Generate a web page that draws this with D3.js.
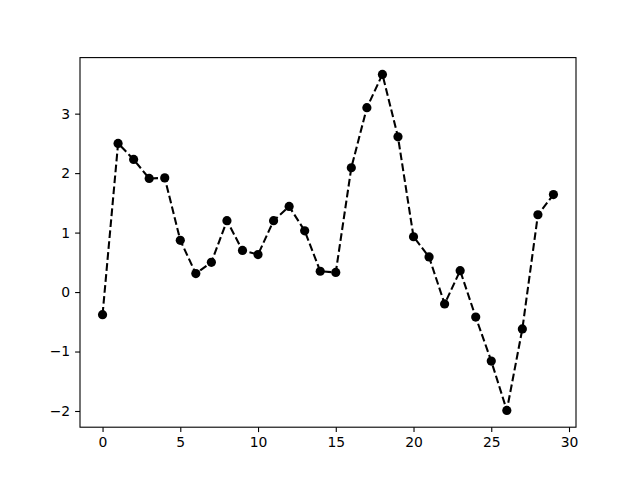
<!DOCTYPE html>
<html>
<head>
<meta charset="utf-8">
<script src="https://cdn.jsdelivr.net/npm/d3@7"></script>
<style>
  body { margin: 0; background: #fff; }
  svg { display: block; }
  .tick text { font-family: "DejaVu Sans", sans-serif; font-size: 13.9px; fill: #000; }
  .tick line { stroke: #000; stroke-width: 1.1px; }
  .domain { display: none; }
</style>
</head>
<body>
<div id="chart"></div>
<script>
// series
var xValues = d3.range(0, 30);
var yValues = [
  -0.38, 2.50, 2.23, 1.91, 1.92, 0.87, 0.31, 0.50, 1.20, 0.70,
   0.63, 1.20, 1.44, 1.03, 0.35, 0.33, 2.09, 3.10, 3.66, 2.61,
   0.93, 0.59, -0.20, 0.36, -0.42, -1.16, -1.99, -0.62, 1.30, 1.64
];
var xTicks = [0, 5, 10, 15, 20, 25, 30];
var yTicks = [-2, -1, 0, 1, 2, 3];

var width = 640, height = 480;
var margin = {left: 80, right: 64, top: 57.6, bottom: 52.8};

var svg = d3.select('#chart').append('svg')
  .attr('width', width)
  .attr('height', height);

// matplotlib style 5% margins around the data
var xMin = d3.min(xValues), xMax = d3.max(xValues);
var yMin = d3.min(yValues), yMax = d3.max(yValues);
var xPad = (xMax - xMin) * 0.05, yPad = (yMax - yMin) * 0.05;

var x = d3.scaleLinear()
  .domain([xMin - xPad, xMax + xPad])
  .range([margin.left, width - margin.right]);
var y = d3.scaleLinear()
  .domain([yMin - yPad, yMax + yPad])
  .range([height - margin.bottom, margin.top]);

var fmt = function(d) { return d < 0 ? '\u2212' + Math.abs(d) : String(d); };

svg.append('g')
  .attr('transform', 'translate(0,' + (height - margin.bottom) + ')')
  .call(d3.axisBottom(x).tickValues(xTicks).tickSize(4.9).tickPadding(4.9).tickFormat(fmt));

svg.append('g')
  .attr('transform', 'translate(' + margin.left + ',0)')
  .call(d3.axisLeft(y).tickValues(yTicks).tickSize(4.9).tickPadding(4.9).tickFormat(fmt));

var pts = xValues.map(function(d, i) { return [d, yValues[i]]; });

svg.append('path')
  .datum(pts)
  .attr('fill', 'none')
  .attr('stroke', '#000')
  .attr('stroke-width', 2.08)
  .attr('stroke-dasharray', '7.7,3.3')
  .attr('d', d3.line().x(function(d) { return x(d[0]); }).y(function(d) { return y(d[1]); }));

svg.selectAll('circle.pt')
  .data(pts)
  .enter()
    .append('circle')
    .attr('class', 'pt')
    .attr('cx', function(d) { return x(d[0]); })
    .attr('cy', function(d) { return y(d[1]); })
    .attr('r', 4.6)
    .attr('fill', '#000');

// axes frame
svg.append('rect')
  .attr('x', margin.left)
  .attr('y', margin.top)
  .attr('width', width - margin.left - margin.right)
  .attr('height', height - margin.top - margin.bottom)
  .attr('fill', 'none')
  .attr('stroke', '#000')
  .attr('stroke-width', 1.1);
</script>
</body>
</html>
